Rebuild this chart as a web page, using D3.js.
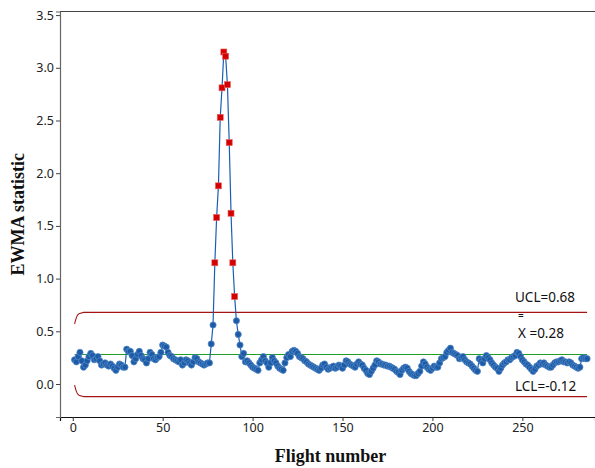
<!DOCTYPE html>
<html>
<head>
<meta charset="utf-8">
<script src="https://cdn.jsdelivr.net/npm/d3@7"></script>
<style>
  html, body { margin: 0; padding: 0; background: #fff; }
  svg { display: block; }
</style>
</head>
<body>
<script>
// ---- data ----
const ewma = [
  0.23,0.21,0.26,0.30,0.22,0.16,0.18,0.22,0.26,0.29,
  0.27,0.23,0.24,0.26,0.22,0.18,0.19,0.20,0.18,0.17,
  0.19,0.17,0.15,0.13,0.16,0.19,0.18,0.16,0.16,0.33,
  0.31,0.31,0.27,0.21,0.24,0.28,0.31,0.27,0.24,0.23,
  0.20,0.24,0.30,0.28,0.24,0.23,0.25,0.26,0.30,0.37,
  0.36,0.35,0.30,0.27,0.26,0.24,0.23,0.22,0.21,0.23,
  0.18,0.20,0.23,0.22,0.20,0.18,0.21,0.25,0.24,0.21,
  0.20,0.19,0.18,0.19,0.20,0.20,0.38,0.56,1.15,1.58,
  1.88,2.53,2.81,3.15,3.11,2.84,2.29,1.62,1.15,0.83,
  0.60,0.47,0.37,0.26,0.29,0.21,0.22,0.20,0.18,0.16,
  0.15,0.14,0.13,0.20,0.23,0.26,0.22,0.20,0.16,0.20,
  0.25,0.22,0.20,0.17,0.15,0.14,0.13,0.20,0.25,0.28,
  0.26,0.31,0.32,0.31,0.29,0.26,0.25,0.24,0.22,0.21,
  0.19,0.18,0.17,0.16,0.15,0.14,0.13,0.15,0.18,0.19,
  0.16,0.14,0.15,0.16,0.17,0.15,0.16,0.18,0.17,0.15,
  0.18,0.22,0.21,0.19,0.18,0.17,0.16,0.19,0.21,0.19,
  0.18,0.15,0.13,0.10,0.09,0.12,0.15,0.18,0.22,0.21,
  0.19,0.19,0.18,0.18,0.17,0.17,0.16,0.15,0.14,0.12,
  0.11,0.09,0.13,0.15,0.16,0.15,0.12,0.10,0.09,0.08,
  0.08,0.10,0.12,0.17,0.21,0.19,0.16,0.14,0.13,0.15,
  0.17,0.16,0.16,0.20,0.24,0.25,0.26,0.30,0.32,0.34,
  0.30,0.29,0.28,0.27,0.24,0.25,0.26,0.23,0.21,0.20,
  0.19,0.17,0.15,0.13,0.12,0.24,0.22,0.20,0.24,0.27,
  0.25,0.23,0.20,0.18,0.16,0.15,0.12,0.15,0.18,0.20,
  0.21,0.23,0.23,0.25,0.26,0.27,0.30,0.29,0.26,0.23,
  0.21,0.19,0.18,0.16,0.14,0.12,0.14,0.17,0.18,0.20,
  0.19,0.20,0.18,0.17,0.16,0.16,0.18,0.20,0.21,0.21,
  0.22,0.23,0.21,0.21,0.20,0.21,0.20,0.18,0.17,0.16,
  0.15,0.16,0.24,0.25,0.24,0.24
];
const flights = ewma.map((_, i) => i + 1);
const UCL = 0.68, CENTER = 0.28, LCL = -0.12;
const uclStart = [0.57, 0.63, 0.66, 0.67, 0.675];
const lclStart = [-0.01, -0.07, -0.10, -0.11, -0.115];
const xTicks = [0, 50, 100, 150, 200, 250];
const yTicks = [0.0, 0.5, 1.0, 1.5, 2.0, 2.5, 3.0, 3.5];

// ---- layout ----
const W = 595, H = 468;
const m = { left: 60, right: 0, top: 11.5, bottom: 51 };
const svg = d3.select("body").append("svg").attr("width", W).attr("height", H);

const x = d3.scaleLinear().domain([-7.1, 290.4]).range([m.left, W - m.right]);
const y = d3.scaleLinear().domain([-0.313, 3.534]).range([H - m.bottom, m.top]);

const sans = "'Noto Sans', 'Open Sans', sans-serif";
const serif = "'Liberation Serif', 'Times New Roman', serif";

// frame (top line)
svg.append("line").attr("x1", m.left).attr("x2", W).attr("y1", m.top).attr("y2", m.top)
  .attr("stroke", "#444").attr("stroke-width", 1);

// axes
const xAxis = svg.append("g").attr("transform", `translate(0,${H - m.bottom})`)
  .call(d3.axisBottom(x).tickValues(xTicks).tickSize(4).tickPadding(2).tickFormat(d3.format("d")));
xAxis.select(".domain").attr("stroke", "#111").attr("stroke-width", 1.2);
xAxis.selectAll(".tick line").attr("stroke", "#333");
xAxis.selectAll("text").attr("font-family", sans).attr("font-size", 12.5).attr("fill", "#222");

const yAxis = svg.append("g").attr("transform", `translate(${m.left},0)`)
  .call(d3.axisLeft(y).tickValues(yTicks).tickSize(4).tickPadding(2).tickFormat(d3.format(".1f")));
yAxis.select(".domain").attr("stroke", "#666").attr("stroke-width", 1.2);
yAxis.selectAll(".tick line").attr("stroke", "#444");
yAxis.selectAll("text").attr("font-family", sans).attr("font-size", 12.5).attr("fill", "#222");

// axis titles
svg.append("text").attr("x", (m.left + W) / 2 + 3).attr("y", 462)
  .attr("text-anchor", "middle").attr("font-family", serif).attr("font-weight", "bold")
  .attr("font-size", 18).attr("fill", "#111").text("Flight number");
svg.append("text").attr("transform", `translate(24,${(m.top + H - m.bottom) / 2}) rotate(-90)`)
  .attr("text-anchor", "middle").attr("font-family", serif).attr("font-weight", "bold")
  .attr("font-size", 18).attr("fill", "#111").text("EWMA statistic");

// control limits
const uclSeries = flights.map(f => [f, f <= uclStart.length ? uclStart[f - 1] : UCL]);
const lclSeries = flights.map(f => [f, f <= lclStart.length ? lclStart[f - 1] : LCL]);
const limLine = d3.line().x(d => x(d[0])).y(d => y(d[1])).curve(d3.curveMonotoneX);
svg.append("path").datum(uclSeries).attr("d", limLine).attr("fill", "none")
  .attr("stroke", "#a51515").attr("stroke-width", 1.1);
svg.append("path").datum(lclSeries).attr("d", limLine).attr("fill", "none")
  .attr("stroke", "#a51515").attr("stroke-width", 1.1);
svg.append("line").attr("x1", x(flights[0])).attr("x2", x(flights[flights.length - 1]))
  .attr("y1", y(CENTER)).attr("y2", y(CENTER)).attr("stroke", "#1e9e22").attr("stroke-width", 1.2);

// data line
const pts = flights.map((f, i) => ({ f, v: ewma[i] }));
svg.append("path").datum(pts)
  .attr("d", d3.line().x(d => x(d.f)).y(d => y(d.v)))
  .attr("fill", "none").attr("stroke", "#1a5fb4").attr("stroke-width", 1.2);

// in-control points
svg.append("g").selectAll("circle").data(pts.filter(d => d.v <= UCL && d.v >= LCL)).join("circle")
  .attr("cx", d => x(d.f)).attr("cy", d => y(d.v)).attr("r", 3.1)
  .attr("fill", "#1d5ba6").attr("stroke", "#4f86c6").attr("stroke-width", 0.8);

// out-of-control points
svg.append("g").selectAll("rect").data(pts.filter(d => d.v > UCL || d.v < LCL)).join("rect")
  .attr("x", d => x(d.f) - 3).attr("y", d => y(d.v) - 3).attr("width", 6).attr("height", 6)
  .attr("fill", "#d40000").attr("stroke", "#e86060").attr("stroke-width", 0.6);

// limit labels
const lab = svg.append("g").attr("font-family", sans).attr("font-size", 13.5).attr("fill", "#111");
lab.append("text").attr("x", 515).attr("y", y(UCL) - 10).text("UCL=" + UCL.toFixed(2));
lab.append("text").attr("x", 518).attr("y", y(CENTER) - 35).attr("font-size", 10).text("=");
lab.append("text").attr("x", 518).attr("y", y(CENTER) - 16).attr("xml:space", "preserve").text("X =" + CENTER.toFixed(2));
lab.append("text").attr("x", 515).attr("y", y(LCL) - 6).text("LCL=" + LCL.toFixed(2));
</script>
</body>
</html>
